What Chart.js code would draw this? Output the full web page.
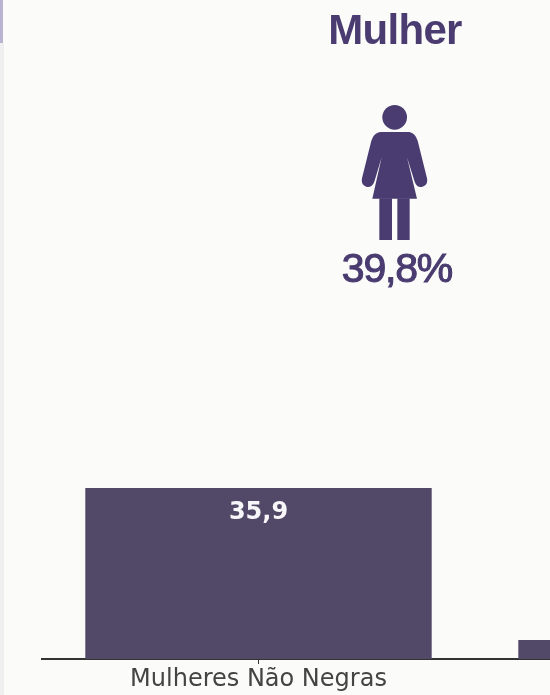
<!DOCTYPE html>
<html lang="pt">
<head>
  <meta charset="UTF-8" />
  <title>Mulher</title>
  <script src="https://cdn.jsdelivr.net/npm/chart.js"></script>
  <style>
    html, body {
      margin: 0;
      width: 550px;
      height: 695px;
      overflow: hidden;
      background-color: #fbfbf9;
    }
    #edge {
      position: absolute;
      left: 0;
      top: 43px;
      width: 4px;
      height: 652px;
      background-color: #efeff0;
    }
    #edgeTop {
      position: absolute;
      left: 0;
      top: 0;
      width: 3px;
      height: 43px;
      background-color: #b9b2d0;
    }
    #chartBox {
      position: absolute;
      left: 0;
      top: 0;
      width: 908px;
      height: 695px;
      filter: blur(0.4px);
    }
    .head {
      position: absolute;
      left: 295px;
      width: 200px;
      text-align: center;
      color: #4a3c70;
      font-family: "Liberation Sans", sans-serif;
      font-weight: bold;
      filter: blur(0.4px);
    }
    #title {
      top: 7px;
      font-size: 42px;
      line-height: 46px;
      letter-spacing: -0.7px;
    }
    #share {
      top: 244px;
      left: 297px;
      font-size: 41px;
      line-height: 48px;
      letter-spacing: -1.2px;
      font-weight: normal;
      -webkit-text-stroke: 1.1px #4a3c70;
    }
    #icon {
      position: absolute;
      left: 300px;
      top: 0;
      width: 200px;
      height: 300px;
      filter: blur(0.4px);
    }
  </style>
</head>
<body>
  <div id="edgeTop"></div>
  <div id="edge"></div>
  <div id="chartBox"><canvas id="barChart" width="908" height="695"></canvas></div>

  <div class="head" id="title">Mulher</div>
  <svg id="icon" viewBox="0 0 600 900">
    <circle cx="284" cy="352" r="37" fill="#4a3c70"/>
    <path fill="#4a3c70" d="M240 396 H328 Q346 400 353 422 L381 535 Q385 556 365 561 Q350 563 344 545 L321 472 L351 596 H217 L245 472 L223 545 Q216 563 201 561 Q182 556 186 535 L214 422 Q221 400 240 396 Z"/>
    <rect x="238" y="595" width="38" height="125" fill="#4a3c70"/>
    <rect x="292" y="595" width="37" height="125" fill="#4a3c70"/>
  </svg>
  <div class="head" id="share">39,8%</div>

  <script>
    const categories = ['Mulheres Não Negras', 'Mulheres Negras'];
    const values = [35.9, 4.0];
    const valueLabels = ['35,9', '4,0'];

    // writes the value just under the top of each tall bar
    const barLabels = {
      id: 'barLabels',
      afterDatasetsDraw(chart) {
        const ctx = chart.ctx;
        ctx.save();
        ctx.fillStyle = '#f7f6f8';
        ctx.font = 'bold 24px "DejaVu Sans"';
        ctx.textAlign = 'center';
        ctx.textBaseline = 'middle';
        chart.getDatasetMeta(0).data.forEach((bar, i) => {
          if (values[i] > 10) {
            ctx.fillText(valueLabels[i], bar.x, bar.y + 25);
          }
        });
        ctx.restore();
      }
    };

    new Chart(document.getElementById('barChart'), {
      type: 'bar',
      data: {
        labels: categories,
        datasets: [{
          data: values,
          backgroundColor: '#524867',
          categoryPercentage: 1,
          barPercentage: 0.8
        }]
      },
      options: {
        responsive: false,
        animation: false,
        layout: { padding: { left: 42, top: 459, right: 0, bottom: 0 } },
        plugins: { legend: { display: false }, tooltip: { enabled: false } },
        scales: {
          y: { display: false, min: 0, max: 42 },
          x: {
            afterFit(scale) { scale.height = 36; },
            grid: {
              display: true,
              drawOnChartArea: false,
              drawTicks: true,
              offset: false,
              tickLength: 5,
              tickColor: '#333333',
              tickWidth: 1
            },
            border: { display: true, color: '#333333', width: 2 },
            ticks: {
              color: '#444444',
              font: { family: '"DejaVu Sans"', size: 24 },
              padding: 1,
              maxRotation: 0
            }
          }
        }
      },
      plugins: [barLabels]
    });
  </script>
</body>
</html>
